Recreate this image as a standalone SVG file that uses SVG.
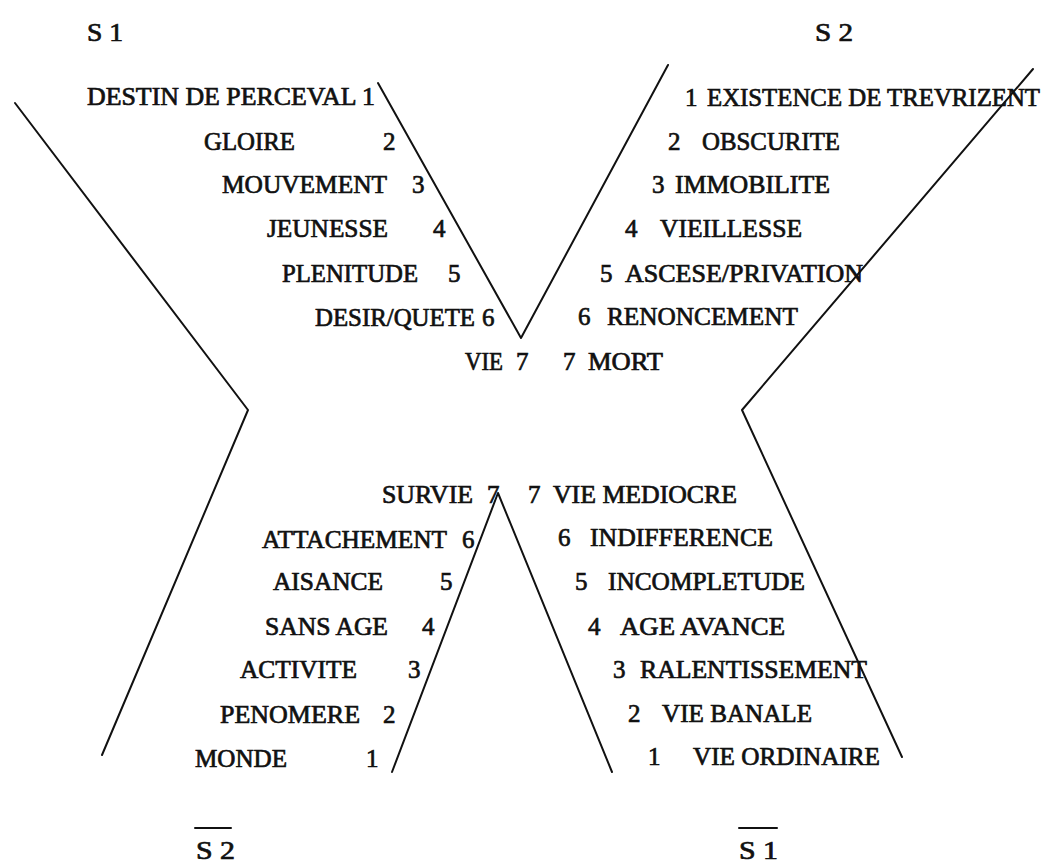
<svg xmlns="http://www.w3.org/2000/svg" width="1050" height="862" viewBox="0 0 1050 862">
<style>
text{font-family:"Liberation Serif","Times New Roman",serif;font-size:25px;fill:#111;stroke:#111;stroke-width:0.7px;}
.l{stroke:#111;stroke-width:2;fill:none;stroke-linecap:round;stroke-linejoin:round;}
</style>
<rect width="1050" height="862" fill="#fff"/>
<g id="connectors">
<polyline class="l" points="15,103 248,410 102,755"/>
<polyline class="l" points="1033,69 742,410 902,757"/>
<polyline class="l" points="378,83 521,338 668,65"/>
<polyline class="l" points="392,772 498,493 612,772"/>
<line class="l" x1="195" y1="828" x2="231" y2="828"/>
<line class="l" x1="739" y1="828" x2="777" y2="828"/>
</g>
<g id="S1-top"><text x="87" y="41" textLength="36" lengthAdjust="spacingAndGlyphs">S 1</text></g>
<g id="S2-top"><text x="815" y="41" textLength="38" lengthAdjust="spacingAndGlyphs">S 2</text></g>
<g id="S2-bar"><text x="196" y="859" textLength="39" lengthAdjust="spacingAndGlyphs">S 2</text></g>
<g id="S1-bar"><text x="739" y="859" textLength="39" lengthAdjust="spacingAndGlyphs">S 1</text></g>
<g id="S1-items">
<text x="87" y="105" textLength="288" lengthAdjust="spacingAndGlyphs">DESTIN DE PERCEVAL 1</text>
<text x="204" y="150" textLength="91" lengthAdjust="spacingAndGlyphs">GLOIRE</text><text x="383" y="150">2</text>
<text x="222" y="193" textLength="165" lengthAdjust="spacingAndGlyphs">MOUVEMENT</text><text x="412" y="193">3</text>
<text x="267" y="237" textLength="121" lengthAdjust="spacingAndGlyphs">JEUNESSE</text><text x="433" y="237">4</text>
<text x="282" y="282" textLength="136" lengthAdjust="spacingAndGlyphs">PLENITUDE</text><text x="448" y="282">5</text>
<text x="315" y="326" textLength="160" lengthAdjust="spacingAndGlyphs">DESIR/QUETE</text><text x="482" y="326">6</text>
<text x="465" y="370" textLength="38" lengthAdjust="spacingAndGlyphs">VIE</text><text x="516" y="370">7</text>
</g>
<g id="S2-items">
<text x="685" y="106">1</text><text x="707" y="106" textLength="333" lengthAdjust="spacingAndGlyphs">EXISTENCE DE TREVRIZENT</text>
<text x="668" y="150">2</text><text x="702" y="150" textLength="138" lengthAdjust="spacingAndGlyphs">OBSCURITE</text>
<text x="652" y="193">3</text><text x="675" y="193" textLength="155" lengthAdjust="spacingAndGlyphs">IMMOBILITE</text>
<text x="625" y="237">4</text><text x="660" y="237" textLength="142" lengthAdjust="spacingAndGlyphs">VIEILLESSE</text>
<text x="600" y="282">5</text><text x="625" y="282" textLength="238" lengthAdjust="spacingAndGlyphs">ASCESE/PRIVATION</text>
<text x="578" y="325">6</text><text x="607" y="325" textLength="191" lengthAdjust="spacingAndGlyphs">RENONCEMENT</text>
<text x="563" y="370">7</text><text x="588" y="370" textLength="75" lengthAdjust="spacingAndGlyphs">MORT</text>
</g>
<g id="S2bar-items">
<text x="382" y="503" textLength="91" lengthAdjust="spacingAndGlyphs">SURVIE</text><text x="487" y="503">7</text>
<text x="262" y="548" textLength="185" lengthAdjust="spacingAndGlyphs">ATTACHEMENT</text><text x="462" y="548">6</text>
<text x="273" y="590" textLength="110" lengthAdjust="spacingAndGlyphs">AISANCE</text><text x="440" y="590">5</text>
<text x="265" y="635" textLength="123" lengthAdjust="spacingAndGlyphs">SANS AGE</text><text x="422" y="635">4</text>
<text x="240" y="678" textLength="117" lengthAdjust="spacingAndGlyphs">ACTIVITE</text><text x="408" y="678">3</text>
<text x="220" y="723" textLength="140" lengthAdjust="spacingAndGlyphs">PENOMERE</text><text x="383" y="723">2</text>
<text x="195" y="767" textLength="92" lengthAdjust="spacingAndGlyphs">MONDE</text><text x="366" y="767">1</text>
</g>
<g id="S1bar-items">
<text x="528" y="503">7</text><text x="553" y="503" textLength="184" lengthAdjust="spacingAndGlyphs">VIE MEDIOCRE</text>
<text x="558" y="546">6</text><text x="590" y="546" textLength="183" lengthAdjust="spacingAndGlyphs">INDIFFERENCE</text>
<text x="575" y="590">5</text><text x="608" y="590" textLength="197" lengthAdjust="spacingAndGlyphs">INCOMPLETUDE</text>
<text x="588" y="635">4</text><text x="620" y="635" textLength="165" lengthAdjust="spacingAndGlyphs">AGE AVANCE</text>
<text x="613" y="678">3</text><text x="640" y="678" textLength="227" lengthAdjust="spacingAndGlyphs">RALENTISSEMENT</text>
<text x="628" y="722">2</text><text x="662" y="722" textLength="150" lengthAdjust="spacingAndGlyphs">VIE BANALE</text>
<text x="648" y="765">1</text><text x="693" y="765" textLength="187" lengthAdjust="spacingAndGlyphs">VIE ORDINAIRE</text>
</g>
</svg>
